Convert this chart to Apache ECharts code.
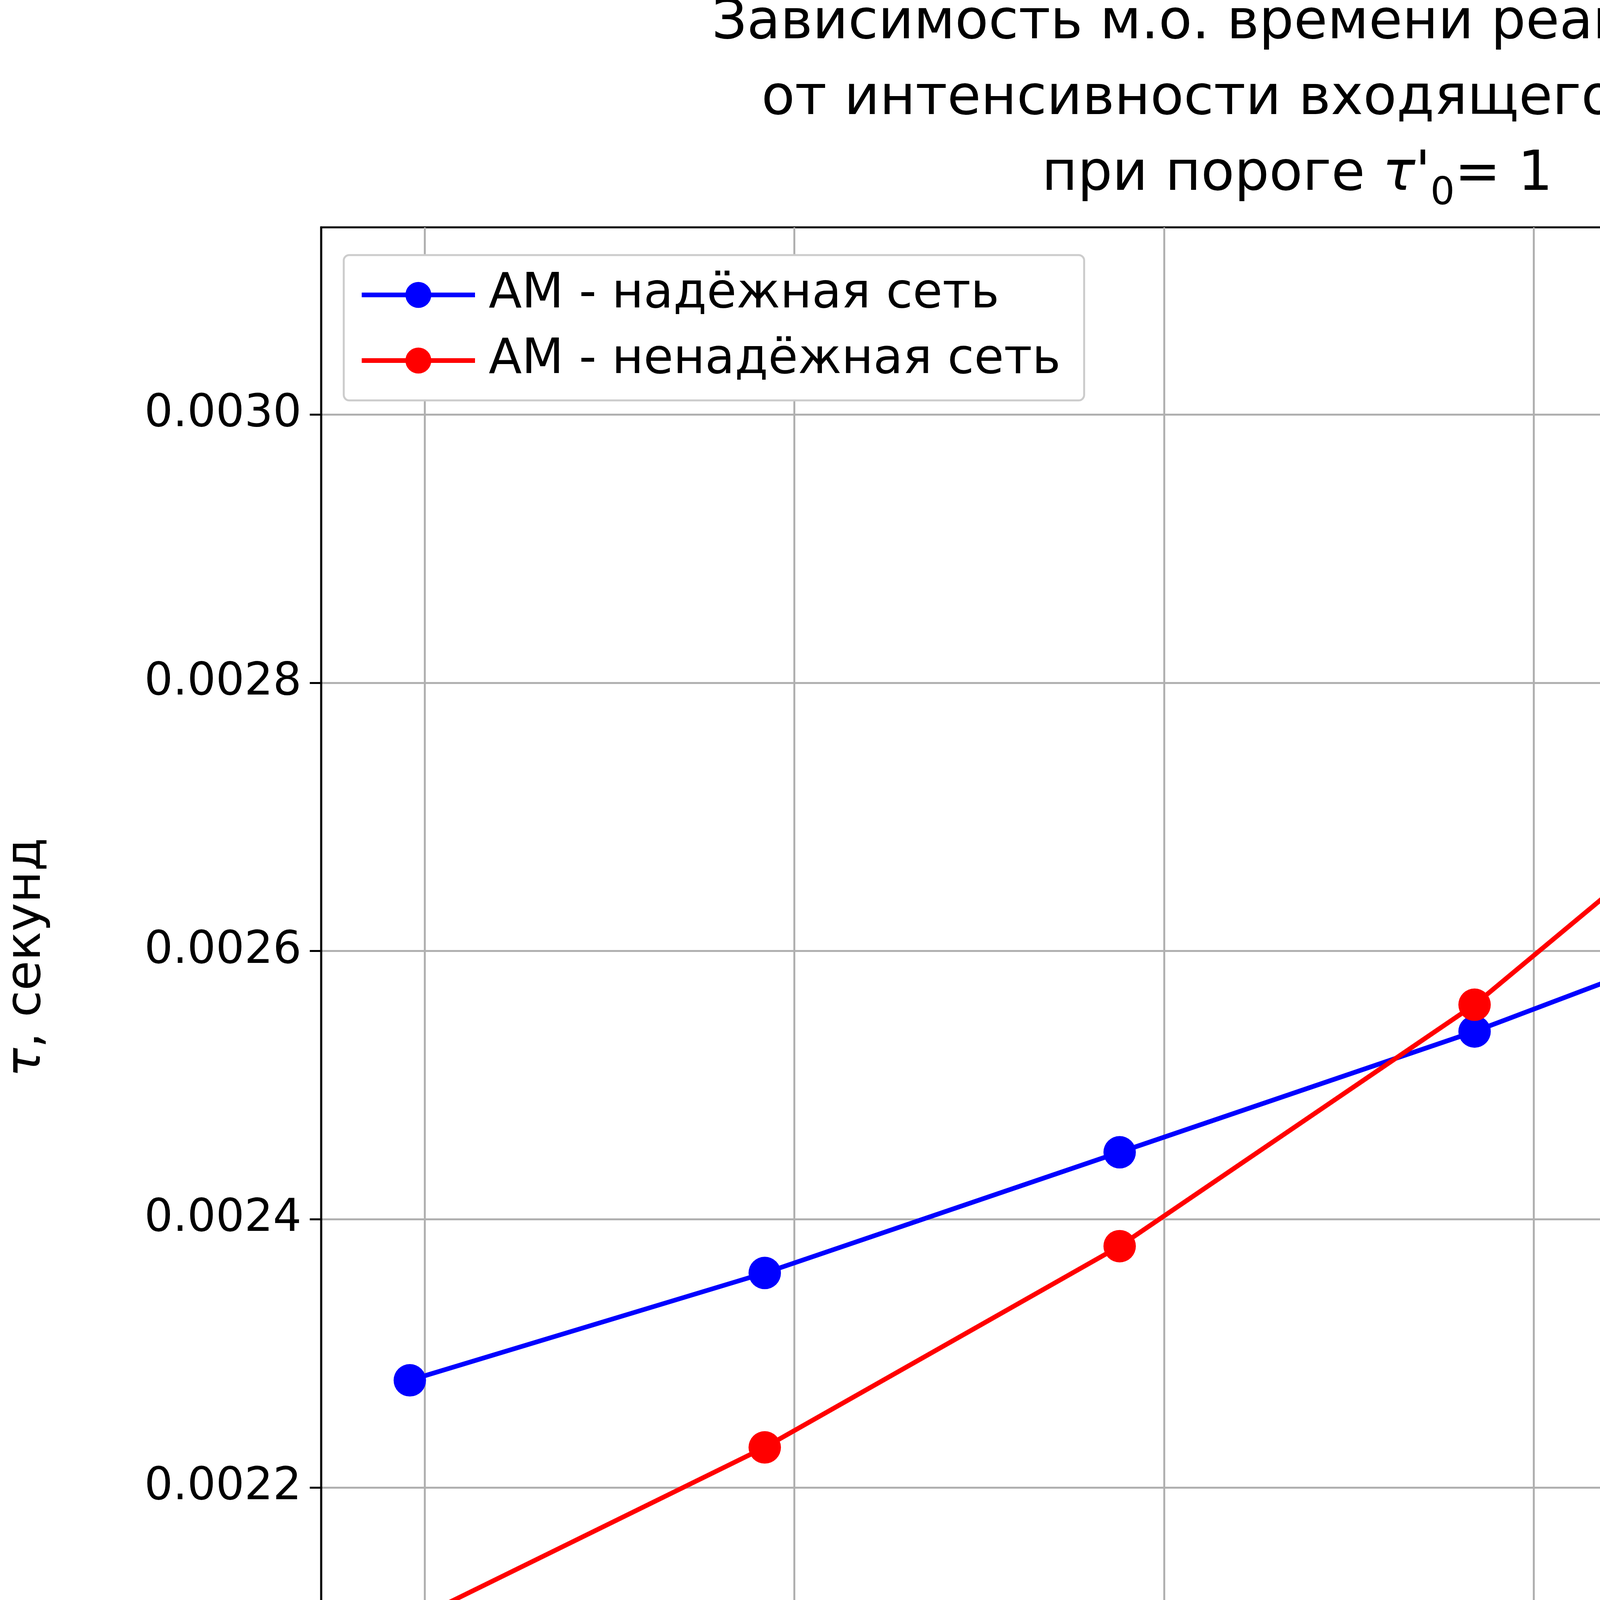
<!DOCTYPE html>
<html>
<head>
<meta charset="UTF-8">
<script src="https://cdn.jsdelivr.net/npm/echarts@6/dist/echarts.min.js"></script>
<style>html,body{margin:0;padding:0;background:#fff;}</style>
</head>
<body>
<div id="main" style="width:6400px;height:4800px;"></div>
<script>
var lambdas = [96, 192, 288, 384, 480, 576];
var reliable = [0.00228, 0.00236, 0.00245, 0.00254, 0.00264, 0.00275];
var unreliable = [0.0021, 0.00223, 0.00238, 0.00256, 0.00278, 0.00309];
var xTicks = [100, 200, 300, 400, 500, 600];
var yTicks = [0.0022, 0.0024, 0.0026, 0.0028, 0.0030];

function pairs(ys) {
    return lambdas.map(function (x, i) { return [x, ys[i]]; });
}
var font = 'DejaVu Sans';

echarts.init(document.getElementById('main')).setOption({
    backgroundColor: '#fff',
    animation: false,
    textStyle: { fontFamily: font },
    title: {
        text: 'Зависимость м.о. времени реакции сети\nот интенсивности входящего потока\nпри пороге {i|τ\'}{s|0}= 1',
        left: 3316, textAlign: 'center', top: -40,
        textStyle: {
            fontFamily: font, fontSize: 140, fontWeight: 'normal', color: '#000', lineHeight: 194,
            rich: {
                i: { fontFamily: font, fontSize: 140, fontStyle: 'italic', color: '#000' },
                s: { fontFamily: font, fontSize: 98, verticalAlign: 'bottom', padding: [50, 0, 0, 0], color: '#000' }
            }
        }
    },
    legend: {
        left: 880, top: 653, orient: 'vertical',
        itemWidth: 290, itemHeight: 83, itemGap: 44,
        padding: [40, 60, 40, 40],
        backgroundColor: '#fff', borderColor: '#ccc', borderWidth: 5, borderRadius: 14,
        lineStyle: { width: 12 },
        textStyle: { fontFamily: font, fontSize: 124, color: '#000', padding: [0, 0, 0, 30] }
    },
    grid: {
        left: 810, right: 577, top: 582, bottom: 480,
        show: true, borderColor: '#000', borderWidth: 5
    },
    xAxis: {
        type: 'value', min: 72, max: 600.4,
        name: '{i|λ}{s|0}, пакетов в секунду', nameLocation: 'middle', nameGap: 240,
        nameTextStyle: {
            fontFamily: font, fontSize: 124, color: '#000',
            rich: {
                i: { fontFamily: font, fontSize: 124, fontStyle: 'italic', color: '#000' },
                s: { fontFamily: font, fontSize: 86, verticalAlign: 'bottom', padding: [40, 0, 0, 0], color: '#000' }
            }
        },
        axisLine: { show: true, onZero: false, lineStyle: { color: '#000', width: 5 } },
        axisTick: { show: true, length: 29, customValues: xTicks, lineStyle: { color: '#000', width: 5 } },
        axisLabel: { customValues: xTicks, fontFamily: font, fontSize: 115, color: '#000', margin: 50 },
        splitLine: { show: true, lineStyle: { color: '#b0b0b0', width: 5 } }
    },
    yAxis: {
        type: 'value', min: 0.002051, max: 0.0031395,
        name: '{i|τ}, секунд', nameLocation: 'middle', nameGap: 690, nameRotate: 90,
        nameTextStyle: {
            fontFamily: font, fontSize: 124, color: '#000',
            rich: { i: { fontFamily: font, fontSize: 124, fontStyle: 'italic', color: '#000' } }
        },
        axisLine: { show: true, onZero: false, lineStyle: { color: '#000', width: 5 } },
        axisTick: { show: true, length: 29, customValues: yTicks, lineStyle: { color: '#000', width: 5 } },
        axisLabel: {
            customValues: yTicks, fontFamily: font, fontSize: 115, color: '#000', margin: 50,
            formatter: function (v) { return v.toFixed(4); }
        },
        splitLine: { show: true, lineStyle: { color: '#b0b0b0', width: 5 } }
    },
    series: [
        {
            name: 'АМ - надёжная сеть', type: 'line', data: pairs(reliable),
            symbol: 'circle', symbolSize: 83, color: '#0000ff',
            lineStyle: { width: 12, color: '#0000ff' }
        },
        {
            name: 'АМ - ненадёжная сеть', type: 'line', data: pairs(unreliable),
            symbol: 'circle', symbolSize: 83, color: '#ff0000',
            lineStyle: { width: 12, color: '#ff0000' }
        }
    ]
});
</script>
</body>
</html>
